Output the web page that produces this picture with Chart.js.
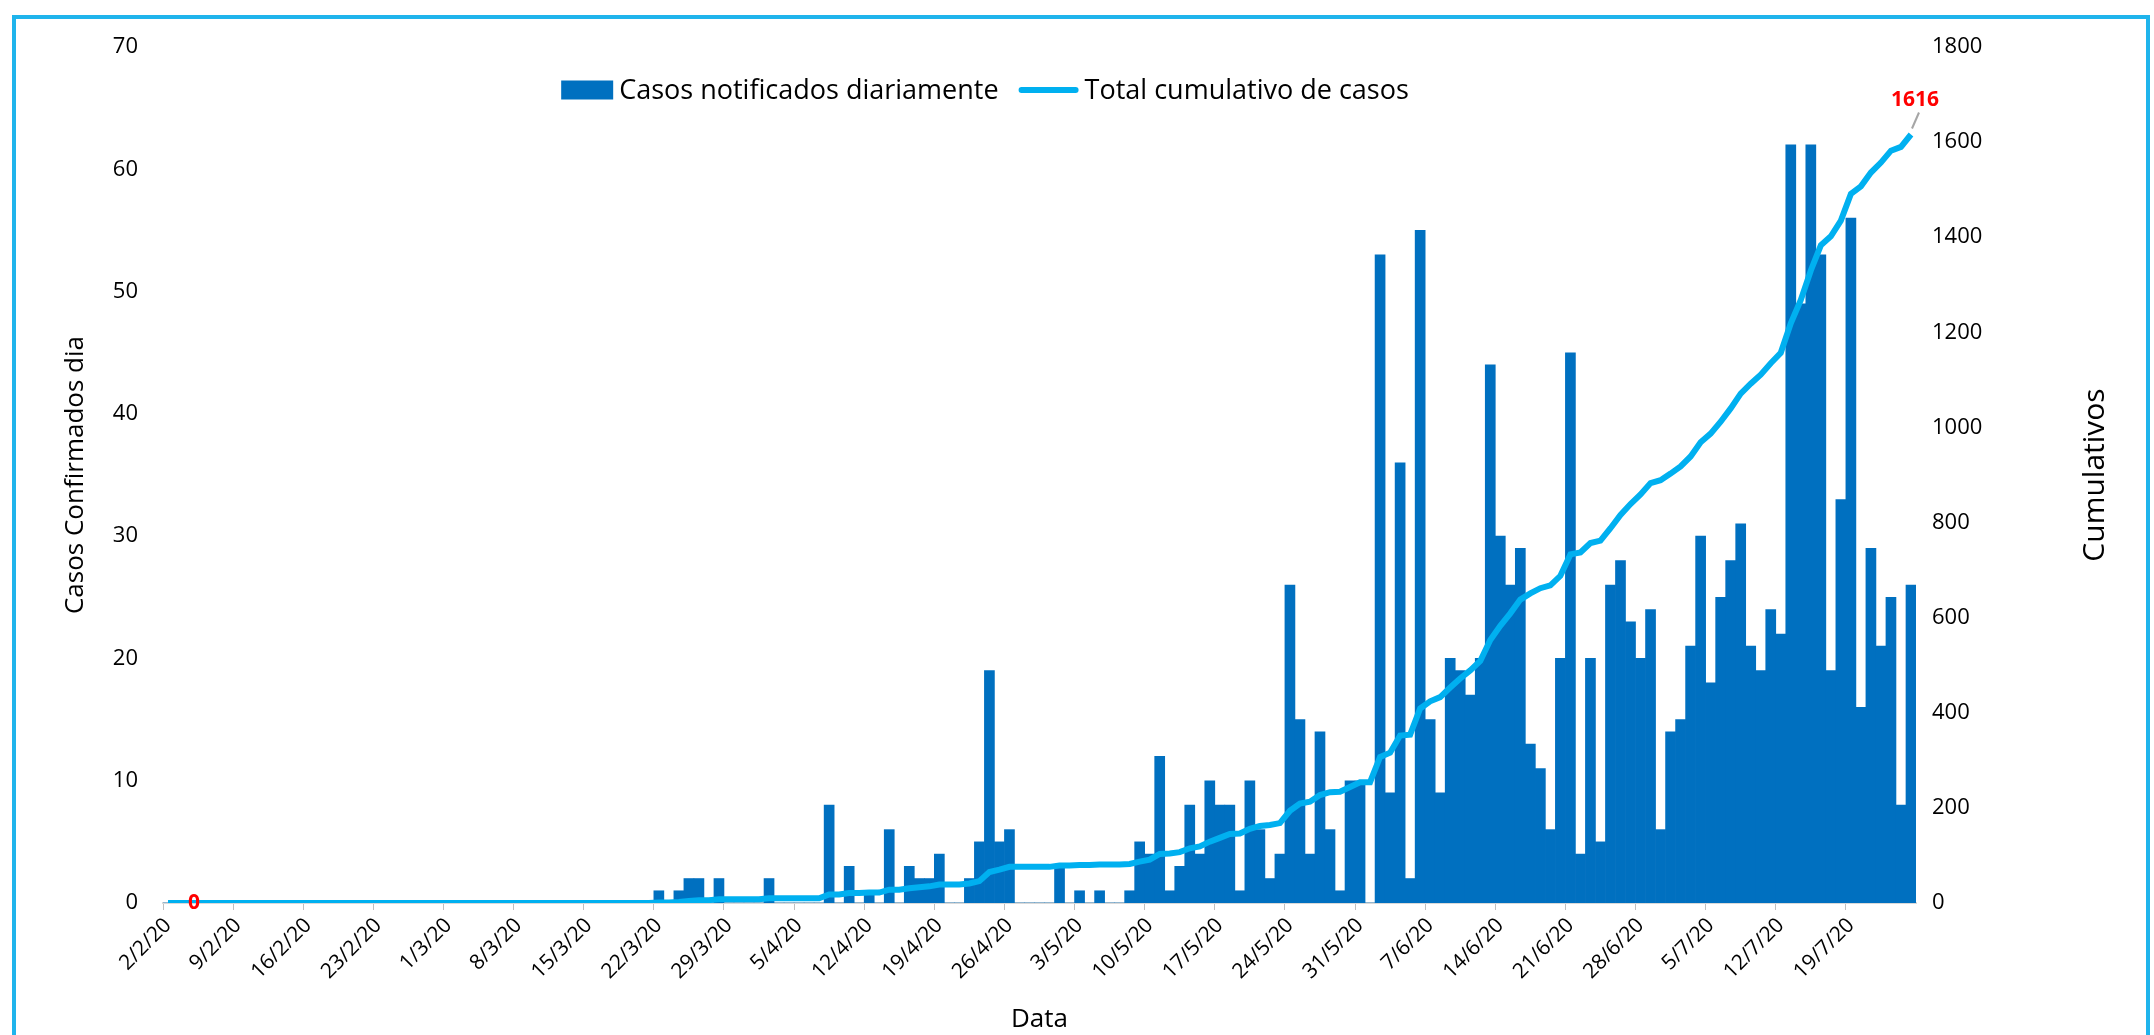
<!DOCTYPE html>
<html>
<head>
<meta charset="utf-8">
<script src="https://cdn.jsdelivr.net/npm/chart.js@4.4.0/dist/chart.umd.min.js"></script>
<style>
  html, body { margin: 0; padding: 0; background: #fff; overflow: hidden; }
  #wrap { position: relative; width: 2154px; height: 1035px; }
  #frame { position: absolute; left: 12px; top: 15px; width: 2138px; height: 1060px; border: 4px solid #1fb4ec; box-sizing: border-box; }
  canvas { position: absolute; left: 0; top: 0; }
</style>
</head>
<body>
<div id="wrap">
  <div id="frame"></div>
  <canvas id="grafico" width="2154" height="1035"></canvas>
</div>
<script>
// dias (2/2/20 a 25/7/20)
const dias = [
  "2/2/20","3/2/20","4/2/20","5/2/20","6/2/20","7/2/20","8/2/20","9/2/20","10/2/20","11/2/20","12/2/20","13/2/20","14/2/20","15/2/20",
  "16/2/20","17/2/20","18/2/20","19/2/20","20/2/20","21/2/20","22/2/20","23/2/20","24/2/20","25/2/20","26/2/20","27/2/20","28/2/20","29/2/20",
  "1/3/20","2/3/20","3/3/20","4/3/20","5/3/20","6/3/20","7/3/20","8/3/20","9/3/20","10/3/20","11/3/20","12/3/20","13/3/20","14/3/20","15/3/20","16/3/20",
  "17/3/20","18/3/20","19/3/20","20/3/20","21/3/20","22/3/20","23/3/20","24/3/20","25/3/20","26/3/20","27/3/20","28/3/20","29/3/20","30/3/20","31/3/20",
  "1/4/20","2/4/20","3/4/20","4/4/20","5/4/20","6/4/20","7/4/20","8/4/20","9/4/20","10/4/20","11/4/20","12/4/20","13/4/20","14/4/20","15/4/20",
  "16/4/20","17/4/20","18/4/20","19/4/20","20/4/20","21/4/20","22/4/20","23/4/20","24/4/20","25/4/20","26/4/20","27/4/20","28/4/20","29/4/20","30/4/20",
  "1/5/20","2/5/20","3/5/20","4/5/20","5/5/20","6/5/20","7/5/20","8/5/20","9/5/20","10/5/20","11/5/20","12/5/20","13/5/20","14/5/20","15/5/20","16/5/20",
  "17/5/20","18/5/20","19/5/20","20/5/20","21/5/20","22/5/20","23/5/20","24/5/20","25/5/20","26/5/20","27/5/20","28/5/20","29/5/20","30/5/20","31/5/20",
  "1/6/20","2/6/20","3/6/20","4/6/20","5/6/20","6/6/20","7/6/20","8/6/20","9/6/20","10/6/20","11/6/20","12/6/20","13/6/20","14/6/20","15/6/20",
  "16/6/20","17/6/20","18/6/20","19/6/20","20/6/20","21/6/20","22/6/20","23/6/20","24/6/20","25/6/20","26/6/20","27/6/20","28/6/20","29/6/20","30/6/20",
  "1/7/20","2/7/20","3/7/20","4/7/20","5/7/20","6/7/20","7/7/20","8/7/20","9/7/20","10/7/20","11/7/20","12/7/20","13/7/20",
  "14/7/20","15/7/20","16/7/20","17/7/20","18/7/20","19/7/20","20/7/20","21/7/20","22/7/20","23/7/20","24/7/20","25/7/20"
];

// rotulos do eixo x (semanal)
const rotulosX = ["2/2/20","9/2/20","16/2/20","23/2/20","1/3/20","8/3/20","15/3/20","22/3/20","29/3/20","5/4/20","12/4/20","19/4/20",
  "26/4/20","3/5/20","10/5/20","17/5/20","24/5/20","31/5/20","7/6/20","14/6/20","21/6/20","28/6/20","5/7/20","12/7/20","19/7/20"];

// casos notificados diariamente
const casosDiarios = [
  0,0,0,0,0,0,0,0,0,0,0,0,0,0,0,0,0,0,0,0,0,0,0,0,0,0,0,0,
  0,0,0,0,0,0,0,0,0,0,0,0,0,0,0,0,0,0,0,0,0,1,0,1,2,2,0,2,0,0,0,
  0,2,0,0,0,0,0,8,0,3,0,1,0,6,0,3,2,2,4,0,0,2,5,19,5,6,0,0,0,0,
  3,0,1,0,1,0,0,1,5,4,12,1,3,8,4,10,8,8,1,10,6,2,4,26,15,4,14,6,1,10,10,
  0,53,9,36,2,55,15,9,20,19,17,20,44,30,26,29,13,11,6,20,45,4,20,5,26,28,23,20,24,6,
  14,15,21,30,18,25,28,31,21,19,24,22,62,49,62,53,19,33,56,16,29,21,25,8,26
];

// total cumulativo de casos
const totalCumulativo = [
  0,0,0,0,0,0,0,0,0,0,0,0,0,0,0,0,0,0,0,0,0,0,0,0,0,0,0,0,
  0,0,0,0,0,0,0,0,0,0,0,0,0,0,0,0,0,0,0,0,0,1,1,2,4,6,6,8,8,8,8,
  8,10,10,10,10,10,10,18,18,21,21,22,22,28,28,31,33,35,39,39,39,41,46,65,70,76,76,76,76,76,
  79,79,80,80,81,81,81,82,87,91,103,104,107,115,119,129,137,145,146,156,162,164,168,194,209,213,227,233,234,244,254,
  254,307,316,352,354,409,424,433,453,472,489,509,553,583,609,638,651,662,668,688,733,737,757,762,788,816,839,859,883,889,
  903,918,939,969,987,1012,1040,1071,1092,1111,1135,1157,1219,1268,1330,1383,1402,1435,1491,1507,1536,1557,1582,1590,1616
];

// pontos com rotulo de dados
const pontosRotulo = [3, 174];

const fonte = '"Open Sans", "DejaVu Sans", sans-serif';

const extrasPlugin = {
  id: 'extras',
  afterDraw(chart) {
    const { ctx, scales: { x, y2 } } = chart;
    const ca = chart.chartArea;
    ctx.save();

    // rotulos de dados
    ctx.fillStyle = '#ff0000';
    ctx.font = 'bold 21px ' + fonte;
    ctx.textAlign = 'center';
    ctx.textBaseline = 'middle';
    pontosRotulo.forEach(i => {
      const v = totalCumulativo[i];
      const px = x.getPixelForValue(i);
      const py = y2.getPixelForValue(v);
      if (v === 0) {
        ctx.fillText(String(v), px - 4, py);
      } else {
        ctx.strokeStyle = '#a6a6a6';
        ctx.lineWidth = 2;
        ctx.beginPath();
        ctx.moveTo(px + 1, py - 6);
        ctx.lineTo(px + 8, py - 22);
        ctx.stroke();
        ctx.fillText(String(v), px + 4, py - 34);
      }
    });

    // legenda
    ctx.font = '27px ' + fonte;
    ctx.textAlign = 'left';
    const ds = chart.data.datasets;
    const marcaL = [52, 60];
    let total = 0;
    ds.forEach((d, i) => { total += marcaL[i] + 6 + ctx.measureText(d.label).width; });
    total += 20;
    let lx = 985 - total / 2;
    const ly = 90;
    ds.forEach((d, i) => {
      if (d.type === 'bar') {
        ctx.fillStyle = d.backgroundColor;
        ctx.fillRect(lx, ly - 9.5, marcaL[i], 19);
      } else {
        ctx.strokeStyle = d.borderColor;
        ctx.lineWidth = 6;
        ctx.lineCap = 'round';
        ctx.beginPath();
        ctx.moveTo(lx + 3, ly);
        ctx.lineTo(lx + marcaL[i] - 3, ly);
        ctx.stroke();
      }
      lx += marcaL[i] + 6;
      ctx.fillStyle = '#000';
      ctx.fillText(d.label, lx, ly + 1);
      lx += ctx.measureText(d.label).width + 20;
    });

    // titulo do eixo direito
    ctx.textAlign = 'center';
    ctx.fillStyle = '#000';
    ctx.font = '30px ' + fonte;
    ctx.translate(2095, (ca.top + ca.bottom) / 2);
    ctx.rotate(-Math.PI / 2);
    ctx.fillText('Cumulativos', 0, 0);
    ctx.restore();
  }
};

new Chart(document.getElementById('grafico'), {
  data: {
    labels: dias,
    datasets: [
      {
        type: 'bar',
        label: 'Casos notificados diariamente',
        data: casosDiarios,
        backgroundColor: '#0070c0',
        borderWidth: 0,
        barPercentage: 1,
        categoryPercentage: 1,
        yAxisID: 'y',
        order: 1
      },
      {
        type: 'line',
        label: 'Total cumulativo de casos',
        data: totalCumulativo,
        borderColor: '#00b0f0',
        backgroundColor: '#00b0f0',
        borderWidth: 6,
        pointRadius: 0,
        tension: 0,
        yAxisID: 'y2',
        order: 0
      }
    ]
  },
  options: {
    responsive: false,
    animation: false,
    layout: { padding: { left: 48, right: 10, top: 47, bottom: 0 } },
    plugins: {
      tooltip: { enabled: false },
      legend: { display: false }
    },
    scales: {
      x: {
        offset: true,
        grid: {
          offset: true,
          drawOnChartArea: false,
          drawTicks: true,
          tickLength: 7,
          color: c => (c.tick && rotulosX.includes(c.tick.label)) ? '#bfbfbf' : 'rgba(0,0,0,0)'
        },
        border: { color: '#d9d9d9', width: 2 },
        ticks: {
          autoSkip: false,
          minRotation: 45,
          maxRotation: 45,
          padding: 3,
          color: '#000',
          font: { family: fonte, size: 21 },
          callback: (v, i) => rotulosX.includes(dias[i]) ? dias[i] : ''
        },
        title: { display: true, text: 'Data', color: '#000', font: { family: fonte, size: 26 }, padding: { top: 0, bottom: 0 } },
        afterFit: s => { s.height = 132; }
      },
      y: {
        position: 'left',
        min: 0,
        max: 70,
        grid: { display: false, drawTicks: false },
        border: { display: false },
        ticks: { stepSize: 10, padding: 25, color: '#000', font: { family: fonte, size: 22 } },
        title: { display: true, text: 'Casos Confirmados dia', color: '#000', font: { family: fonte, size: 26 }, padding: { top: 12, bottom: 0 } },
        afterFit: s => { s.width = 115; }
      },
      y2: {
        position: 'right',
        min: 0,
        max: 1800,
        grid: { display: false, drawTicks: false },
        border: { display: false },
        ticks: { stepSize: 200, padding: 16, color: '#000', font: { family: fonte, size: 22 }, callback: v => String(v) },
        afterFit: s => { s.width = 228; }
      }
    }
  },
  plugins: [extrasPlugin]
});
</script>
</body>
</html>
